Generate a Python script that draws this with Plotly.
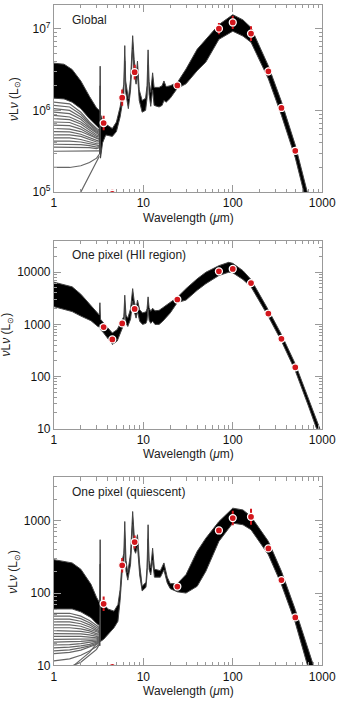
import plotly.graph_objects as go

# ---------------- data ----------------
# photometric bands (micron)
band_wl = [3.6, 4.5, 5.8, 8.0, 24, 70, 100, 160, 250, 350, 500]

# Panel 1: Global
global_obs = [7.0e5, 9.5e4, 1.43e6, 2.93e6, 2.02e6, 1.0e7, 1.19e7, 8.7e6, 3.0e6, 1.07e6, 3.2e5]
global_err_dex = [0.09, 0.05, 0.10, 0.09, 0.03, 0.07, 0.08, 0.09, 0.05, 0.03, 0.03]
global_wl = [1.0, 1.3, 1.6, 2.0, 2.5, 3.0, 3.22, 3.26, 3.29, 3.32, 3.5, 3.8, 4.5, 5.0, 5.5, 5.8,
             6.05, 6.2, 6.35, 6.8, 7.2, 7.6, 7.9, 8.3, 8.6, 9.0, 9.7, 10.6, 11.0, 11.3, 11.6, 12.1,
             12.7, 13.2, 15.0, 16.2, 17.0, 18.0, 20, 24, 30, 40, 50, 70, 100, 130, 160, 250, 350,
             500, 700, 900]
global_upper = [3.78e6, 3.67e6, 3.16e6, 2.29e6, 1.48e6, 1.07e6, 1.0e6, 1.0e6, 3.47e6, 8.9e5, 7.6e5,
                6.8e5, 6.0e5, 7.2e5, 1.10e6, 1.51e6, 2.09e6, 6.2e6, 2.29e6, 1.38e6, 2.40e6, 8.2e6,
                4.2e6, 2.63e6, 4.0e6, 1.78e6, 1.32e6, 1.41e6, 2.0e6, 5.5e6, 2.24e6, 1.66e6, 2.88e6,
                1.91e6, 1.91e6, 2.0e6, 2.29e6, 1.95e6, 2.0e6, 2.19e6, 3.2e6, 5.6e6, 7.4e6, 1.12e7,
                1.48e7, 1.28e7, 1.03e7, 3.5e6, 1.28e6, 3.76e5, 8.9e4, 2.8e4]
global_lower = [1.41e6, 1.38e6, 1.26e6, 1.05e6, 7.9e5, 6.6e5, 6.0e5, 2.9e5, 2.0e6, 2.6e5, 4.0e5,
                5.0e5, 4.8e5, 5.5e5, 8.3e5, 1.20e6, 1.58e6, 4.0e6, 1.66e6, 1.05e6, 1.78e6, 5.6e6,
                2.8e6, 2.09e6, 2.8e6, 1.32e6, 9.5e5, 1.0e6, 1.41e6, 3.55e6, 1.58e6, 1.12e6, 1.78e6,
                1.15e6, 1.10e6, 1.15e6, 1.32e6, 1.26e6, 1.41e6, 1.86e6, 2.11e6, 3.06e6, 3.9e6, 7.4e6,
                9.3e6, 8.1e6, 6.8e6, 2.43e6, 8.7e5, 2.63e5, 6.3e4, 2.0e4]
fan_wl = [1.0, 1.5, 2.0, 2.5, 3.0, 3.22]
global_fan = [
    [1.26e6, 1.20e6, 9.5e5, 7.2e5, 6.0e5, 5.75e5],
    [1.15e6, 1.10e6, 8.9e5, 6.9e5, 5.8e5, 5.55e5],
    [1.05e6, 1.0e6, 8.3e5, 6.6e5, 5.6e5, 5.4e5],
    [9.5e5, 9.1e5, 7.8e5, 6.3e5, 5.45e5, 5.2e5],
    [8.7e5, 8.3e5, 7.2e5, 6.0e5, 5.25e5, 5.0e5],
    [7.9e5, 7.7e5, 6.8e5, 5.7e5, 5.0e5, 4.85e5],
    [7.2e5, 7.1e5, 6.3e5, 5.4e5, 4.8e5, 4.7e5],
    [6.6e5, 6.5e5, 5.9e5, 5.1e5, 4.6e5, 4.5e5],
    [6.0e5, 5.9e5, 5.5e5, 4.9e5, 4.5e5, 4.4e5],
    [5.5e5, 5.45e5, 5.1e5, 4.6e5, 4.3e5, 4.2e5],
    [5.0e5, 5.0e5, 4.8e5, 4.4e5, 4.1e5, 4.1e5],
    [4.6e5, 4.6e5, 4.4e5, 4.1e5, 3.9e5, 3.9e5],
    [4.2e5, 4.2e5, 4.1e5, 3.9e5, 3.7e5, 3.7e5],
    [3.85e5, 3.85e5, 3.8e5, 3.7e5, 3.55e5, 3.6e5],
    [3.55e5, 3.55e5, 3.55e5, 3.5e5, 3.4e5, 3.5e5],
    [3.16e5, 3.16e5, 3.16e5, 3.16e5, 3.16e5, 3.2e5],
    [2.0e5, 2.0e5, 2.1e5, 2.3e5, 2.6e5, 2.9e5],
    [5.0e4, 7.0e4, 1.0e5, 1.6e5, 2.4e5, 2.75e5],
]

# Panel 2: One pixel (HII region)
hii_obs = [890, 514, 1045, 1977, 3000, 10400, 11550, 6200, 1615, 528, 150]
hii_err_dex = [0.05, 0.05, 0.06, 0.06, 0.03, 0.04, 0.05, 0.05, 0.03, 0.03, 0.03]
hii_wl = [1.0, 1.6, 2.0, 2.6, 3.1, 3.22, 3.27, 3.32, 3.6, 4.5, 5.1, 5.8, 6.05, 6.2, 6.4, 6.7, 7.2,
          7.6, 7.9, 8.3, 8.6, 9.1, 9.8, 10.7, 11.0, 11.3, 11.6, 12.1, 12.7, 13.5, 15, 16.5, 20, 24,
          30, 40, 50, 70, 90, 100, 130, 160, 250, 350, 500, 700, 1000]
hii_upper = [6460, 5250, 3800, 2290, 1585, 1510, 2600, 1260, 1060, 685, 794, 1190, 1413, 3630, 1510,
             1318, 1995, 4850, 2820, 1995, 2925, 1905, 1660, 1740, 1995, 3370, 2090, 1780, 2040,
             1820, 1860, 2090, 2630, 3310, 4850, 7480, 10000, 13370, 15490, 14790, 10720, 7240,
             1890, 640, 174, 39.8, 7.6]
hii_lower = [2190, 1760, 1445, 1175, 912, 891, 1000, 794, 685, 413, 479, 851, 1000, 1995, 1047, 912,
             1260, 2820, 1780, 1318, 1780, 1150, 1000, 1047, 1200, 1995, 1200, 1047, 1150, 1000, 1000,
             1150, 1660, 2630, 2925, 4510, 6030, 8650, 10000, 9770, 7240, 5250, 1413, 479, 129,
             27.5, 5.0]

# Panel 3: One pixel (quiescent)
qui_obs = [71, 9.5, 242, 508, 123, 735, 1090, 1135, 415, 151, 46]
qui_err_dex = [0.10, 0.03, 0.10, 0.09, 0.03, 0.05, 0.10, 0.11, 0.04, 0.03, 0.03]
qui_wl = [1.0, 1.6, 2.0, 2.6, 3.0, 3.22, 3.26, 3.29, 3.32, 3.6, 4.0, 4.7, 5.2, 5.5, 5.8, 6.05, 6.2,
          6.4, 6.7, 7.2, 7.6, 7.9, 8.2, 8.6, 9.1, 9.7, 10.7, 11.0, 11.3, 11.6, 12.1, 12.7, 13.3,
          15.5, 17.0, 18.5, 20, 24, 30, 40, 50, 70, 100, 130, 160, 250, 350, 500, 700, 900]
qui_upper = [290, 261, 214, 132, 87, 72.4, 72.4, 547, 75.9, 72.4, 60.3, 56.2, 69.2, 112, 282, 355,
             977, 282, 191, 355, 1343, 631, 490, 641, 251, 124, 141, 224, 881, 282, 224, 417, 214,
             204, 261, 166, 135, 135, 180, 378, 575, 977, 1496, 1413, 1148, 519, 200, 58.9, 17,
             6.3]
qui_lower = [60.3, 60.3, 55, 45.7, 38, 35.5, 18.6, 251, 21.4, 22.9, 26.3, 33.1, 40.7, 79.4, 200, 251,
             562, 200, 151, 251, 891, 398, 355, 447, 178, 107, 120, 178, 562, 214, 178, 282, 166,
             166, 209, 138, 115, 104, 100, 124, 200, 519, 929, 881, 752, 339, 131, 38.9, 9.1, 3.2]
qui_fan = [
    [52.5, 52.5, 47.9, 41.7, 35.5, 33.1],
    [47.9, 47.9, 44.2, 38.9, 33.5, 31.6],
    [43.7, 43.7, 40.7, 36.3, 31.6, 30.2],
    [39.8, 39.8, 37.6, 33.9, 30.2, 29.2],
    [36.3, 36.3, 34.7, 31.6, 28.8, 28.2],
    [33.1, 33.1, 32.0, 29.9, 27.5, 27.2],
    [30.2, 30.2, 29.5, 28.2, 26.3, 26.3],
    [27.5, 27.5, 27.2, 26.3, 25.1, 25.4],
    [25.1, 25.1, 25.1, 24.5, 24.0, 24.5],
    [22.9, 22.9, 23.2, 23.2, 23.2, 24.0],
    [20.9, 20.9, 21.4, 21.9, 22.4, 23.4],
    [19.1, 19.3, 20.0, 20.7, 21.6, 22.9],
    [17.4, 17.8, 18.6, 19.5, 20.9, 22.4],
    [15.8, 16.4, 17.4, 18.6, 20.2, 21.9],
    [14.5, 15.1, 16.2, 17.8, 19.5, 21.4],
    [11.5, 12.3, 13.8, 15.8, 18.2, 20.4],
    [8.9, 9.5, 11.0, 13.8, 16.6, 19.5],
    [5.0, 8.9, 12.0, 15.1, 19.9, 21.4],
]

panel_titles = ["Global", "One pixel (HII region)", "One pixel (quiescent)"]
x_ticks = [1, 10, 100, 1000]
x_ticktext = ["1", "10", "100", "1000"]
x_minor = [k * 10 ** d for d in range(0, 3) for k in range(2, 10)]
y_ticks = [[1e5, 1e6, 1e7], [10, 100, 1000, 10000], [10, 100, 1000]]
y_ticktext = [["10<sup>5</sup>", "10<sup>6</sup>", "10<sup>7</sup>"],
              ["10", "100", "1000", "10000"], ["10", "100", "1000"]]
y_minor = [[k * 10 ** d for d in (5, 6, 7) for k in range(2, 10)],
           [k * 10 ** d for d in (1, 2, 3, 4) for k in range(2, 10)],
           [k * 10 ** d for d in (1, 2, 3) for k in range(2, 10)]]

# ---------------- figure ----------------
FONT = "Liberation Sans, Arial, sans-serif"
RED = "#d3161c"
W, H = 350, 704

def py(px):
    return 1 - px / H

panels = [
    dict(wl=global_wl, up=global_upper, lo=global_lower, fan=global_fan, obs=global_obs,
         err=global_err_dex, top=5, bot=194, yr=[5, 7.29]),
    dict(wl=hii_wl, up=hii_upper, lo=hii_lower, fan=None, obs=hii_obs,
         err=hii_err_dex, top=243, bot=433, yr=[1, 4.607]),
    dict(wl=qui_wl, up=qui_upper, lo=qui_lower, fan=qui_fan, obs=qui_obs,
         err=qui_err_dex, top=482, bot=672, yr=[1, 3.603]),
]

fig = go.Figure()
layout = dict(width=W, height=H, margin=dict(l=0, r=0, t=0, b=0),
              paper_bgcolor="white", plot_bgcolor="white", showlegend=False,
              font=dict(family=FONT, size=12, color="#222"))
annotations = []
x0, x1 = 53.5 / W, 335.5 / W

for i, p in enumerate(panels):
    n = "" if i == 0 else str(i + 1)
    xa, ya = "x" + n, "y" + n
    # grey fan of model lines at short wavelengths
    if p["fan"]:
        for line in p["fan"]:
            fig.add_trace(go.Scatter(x=fan_wl, y=line, mode="lines", xaxis=xa, yaxis=ya,
                                     line=dict(color="#666", width=1.2), hoverinfo="skip"))
    # model envelope band
    fig.add_trace(go.Scatter(x=p["wl"], y=p["lo"], mode="lines", xaxis=xa, yaxis=ya,
                             line=dict(color="#444", width=1), hoverinfo="skip"))
    fig.add_trace(go.Scatter(x=p["wl"], y=p["up"], mode="lines", xaxis=xa, yaxis=ya,
                             fill="tonexty", fillcolor="black",
                             line=dict(color="#444", width=1), hoverinfo="skip"))
    # observations
    plus = [v * (10 ** e - 1) for v, e in zip(p["obs"], p["err"])]
    minus = [v * (1 - 10 ** (-e)) for v, e in zip(p["obs"], p["err"])]
    fig.add_trace(go.Scatter(x=band_wl, y=p["obs"], mode="markers", xaxis=xa, yaxis=ya,
                             marker=dict(size=7, color=RED, line=dict(color="white", width=1.3)),
                             error_y=dict(type="data", symmetric=False, array=plus,
                                          arrayminus=minus, color=RED, thickness=2, width=0)))
    common = dict(type="log", showline=True, linecolor="#999", linewidth=1, mirror="allticks",
                  ticks="inside", ticklen=7, tickcolor="#999", showgrid=False, zeroline=False,
                  tickfont=dict(family=FONT, size=12, color="#111"), tickmode="array")
    minor_common = dict(ticks="inside", ticklen=3.5, tickcolor="#999", showgrid=False,
                        tickmode="array")
    layout["xaxis" + n] = dict(common, domain=[x0, x1], range=[0, 3], anchor=ya,
                               tickvals=x_ticks, ticktext=x_ticktext,
                               minor=dict(minor_common, tickvals=x_minor))
    layout["yaxis" + n] = dict(common, domain=[py(p["bot"]), py(p["top"])], range=p["yr"],
                               anchor=xa, tickvals=y_ticks[i], ticktext=y_ticktext[i],
                               minor=dict(minor_common, tickvals=y_minor[i]))
    annotations.append(dict(text=panel_titles[i], xref="paper", yref="paper", x=70 / W,
                            y=py(p["top"] + 15), xanchor="left", yanchor="middle",
                            showarrow=False, font=dict(family=FONT, size=12, color="#222")))
    annotations.append(dict(text="Wavelength (<i>μ</i>m)", xref="paper", yref="paper",
                            x=(x0 + x1) / 2, y=py(p["bot"] + 26), xanchor="center",
                            yanchor="middle", showarrow=False,
                            font=dict(family=FONT, size=12, color="#222")))
    annotations.append(dict(text="<i>ν</i>L<i>ν</i> (L<sub>⊙</sub>)", xref="paper",
                            yref="paper", x=[12, 4, 12][i] / W,
                            y=py((p["top"] + p["bot"]) / 2), xanchor="center",
                            yanchor="middle", textangle=-90, showarrow=False,
                            font=dict(family=FONT, size=12, color="#222")))

layout["annotations"] = annotations
fig.update_layout(**layout)
fig.write_html("out.html")
